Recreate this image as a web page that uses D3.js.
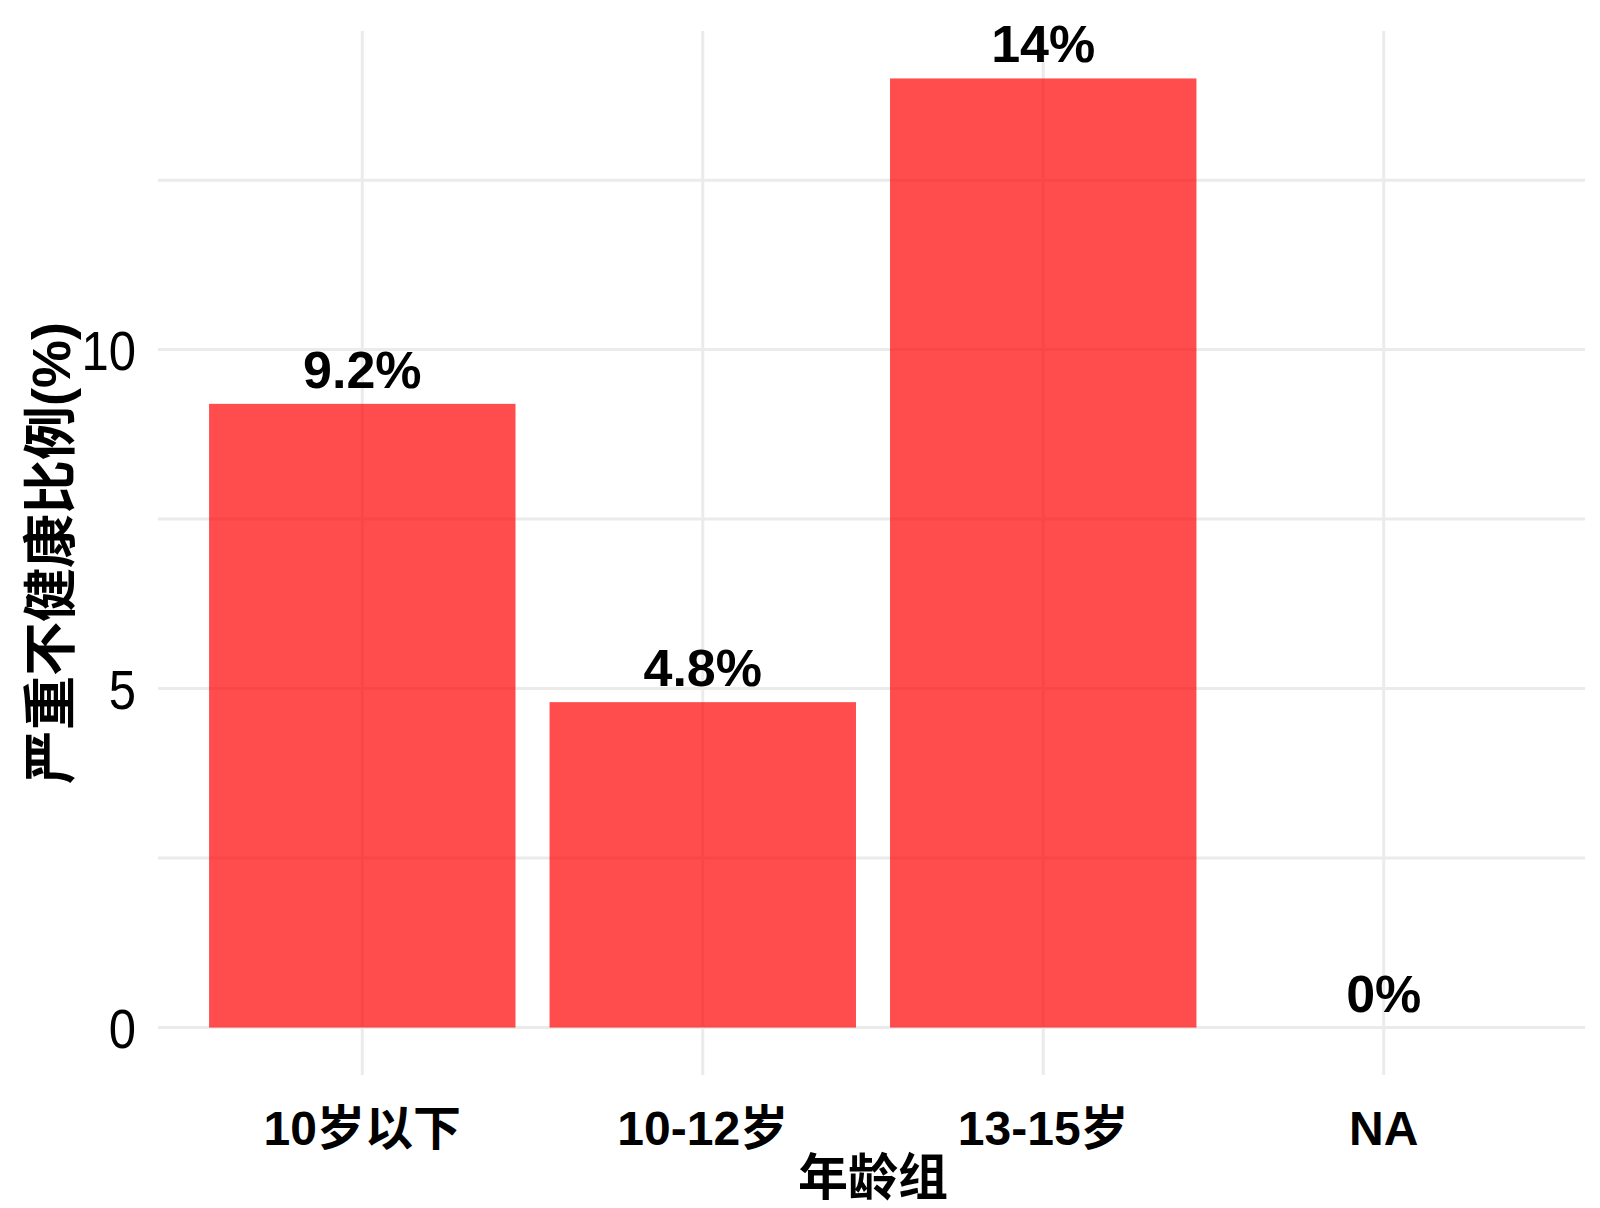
<!DOCTYPE html>
<html><head><meta charset="utf-8">
<script src="https://cdn.jsdelivr.net/npm/d3@7"></script>
<style>
html,body{margin:0;padding:0;background:#fff;}
text{font-family:"Liberation Sans","Noto Sans CJK SC",sans-serif;fill:#000;}
</style></head>
<body><svg id="chart" width="1600" height="1208"></svg>
<script>
const categories = ["10岁以下", "10-12岁", "13-15岁", "NA"];
const values = [9.2, 4.8, 14.0, 0];
const labels = ["9.2%", "4.8%", "14%", "0%"];
const yTicks = [0, 5, 10];
const yMinor = [2.5, 7.5, 12.5];
const xTitle = "年龄组";
const yTitle = "严重不健康比例(%)";

const svg = d3.select("#chart");
const panel = {left: 158, right: 1588, top: 31, bottom: 1075};

// ggplot discrete expansion: 0.6 units each side; bar width 0.9
const x = d3.scalePoint().domain(categories)
  .range([panel.left, panel.right]).padding(0.6);
const step = x.step();
const bw = step * 0.9;

const y = d3.scaleLinear().domain([-0.7, 14.7]).range([panel.bottom, panel.top]);

const grid = svg.append("g");
yMinor.concat(yTicks).forEach(v => {
  grid.append("line").attr("x1", panel.left).attr("x2", panel.right - 3)
    .attr("y1", y(v)).attr("y2", y(v))
    .attr("stroke", "#ebebeb").attr("stroke-width", 3);
});
categories.forEach(c => {
  grid.append("line").attr("x1", x(c)).attr("x2", x(c))
    .attr("y1", panel.top).attr("y2", panel.bottom)
    .attr("stroke", "#ebebeb").attr("stroke-width", 3);
});

svg.append("g").selectAll("rect").data(values).join("rect")
  .attr("x", (d, i) => x(categories[i]) - bw / 2)
  .attr("width", bw)
  .attr("y", d => y(d))
  .attr("height", d => y(0) - y(d))
  .attr("fill", "#ff0000").attr("fill-opacity", 0.7);

svg.append("g").selectAll("text").data(values).join("text")
  .attr("x", (d, i) => x(categories[i]))
  .attr("y", d => y(d) - 16)
  .attr("text-anchor", "middle")
  .attr("font-size", 52).attr("font-weight", "bold")
  .text((d, i) => labels[i]);

// y tick labels (slightly taller glyphs, as in the reference)
svg.append("g").selectAll("text").data(yTicks).join("text")
  .attr("transform", d => `translate(136,${y(d)}) scale(1,1.15)`)
  .attr("dy", "0.36em")
  .attr("text-anchor", "end")
  .attr("font-size", 49)
  .text(d => d);

// x tick labels
svg.append("g").selectAll("text").data(categories).join("text")
  .attr("x", d => x(d)).attr("y", 1145)
  .attr("text-anchor", "middle")
  .attr("font-size", 48).attr("font-weight", "bold")
  .text(d => d);

svg.append("text").attr("x", (panel.left + panel.right) / 2).attr("y", 1195)
  .attr("text-anchor", "middle").attr("font-size", 50).attr("font-weight", "bold")
  .text(xTitle);

svg.append("text").attr("transform", "translate(70,553) rotate(-90)")
  .attr("text-anchor", "middle").attr("font-size", 54).attr("font-weight", "bold")
  .text(yTitle);
</script></body></html>
